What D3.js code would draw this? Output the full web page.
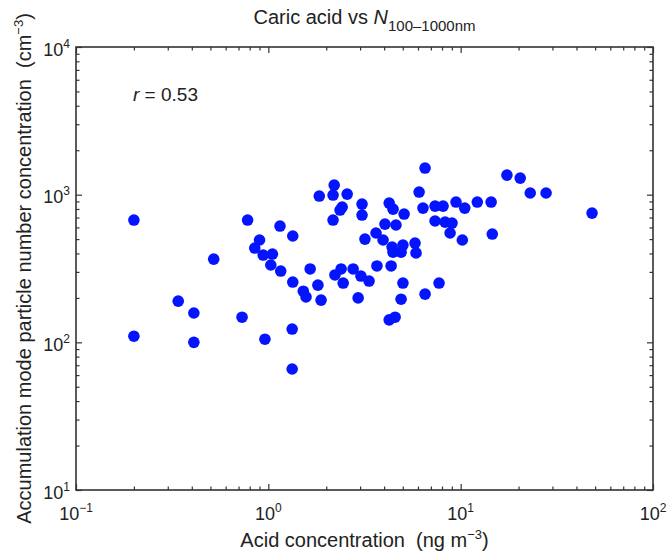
<!DOCTYPE html>
<html>
<head>
<meta charset="utf-8">
<script src="https://cdn.jsdelivr.net/npm/d3@7"></script>
<style>
  body { margin: 0; background: #fff; }
  svg text { font-family: 'Liberation Sans', Arial, sans-serif; fill: #222; white-space: pre; }
</style>
</head>
<body>
<div id="chart"></div>
<script>
// Acid concentration (ng m-3)
const acidConc = [
  0.2, 0.2, 0.52, 0.34, 0.41, 0.41, 0.73, 0.78, 0.96, 1.33,
  1.33, 1.15, 1.34, 0.90, 0.85, 0.94, 1.05, 1.03, 1.16, 1.34,
  1.52, 1.57, 1.65, 1.81, 1.88, 1.84, 2.20, 2.17, 2.57, 2.42,
  2.36, 2.17, 2.22, 2.39, 2.45, 2.76, 2.93, 3.07, 3.07, 3.18,
  3.03, 3.34, 3.67, 4.35, 4.25, 4.45, 4.04, 4.61, 3.63, 3.95,
  4.40, 4.45, 5.01, 5.79, 5.86, 4.90, 5.01, 4.90, 4.25, 4.56,
  6.53, 7.72, 5.08, 6.08, 6.53, 6.37, 7.36, 8.10, 7.36, 8.30,
  9.02, 8.81, 10.2, 9.46, 10.5, 12.2, 14.4, 14.6, 17.4, 20.4,
  23.0, 27.8, 48.2
];

// Accumulation mode number concentration (cm-3), same order
const numberConc = [
  673, 110, 366, 190, 158, 100, 148, 673, 105, 66,
  123, 613, 525, 493, 435, 390, 396, 334, 304, 256,
  222, 203, 314, 244, 193, 979, 1161, 994, 1009, 824,
  787, 673, 286, 314, 252, 314, 200, 863, 728, 500,
  281, 260, 329, 329, 877, 798, 632, 623, 550, 493,
  442, 408, 456, 470, 403, 408, 252, 196, 142, 148,
  212, 252, 739, 1042, 1514, 811, 837, 837, 663, 652,
  642, 550, 493, 891, 811, 891, 891, 541, 1357, 1295,
  1026, 1026, 750
];

const xDecades = [-1, 0, 1, 2];
const yDecades = [1, 2, 3, 4];
const corrText = '0.53';

const width = 667;
const height = 557;
const margin = { top: 47, right: 14, bottom: 67, left: 76 };
const plotW = width - margin.left - margin.right;
const plotH = height - margin.top - margin.bottom;

const svg = d3.select('#chart').append('svg')
  .attr('width', width)
  .attr('height', height);

const g = svg.append('g')
  .attr('transform', `translate(${margin.left},${margin.top})`);

const x = d3.scaleLog()
  .domain([Math.pow(10, xDecades[0]), Math.pow(10, xDecades[xDecades.length - 1])])
  .range([0, plotW]);

const y = d3.scaleLog()
  .domain([Math.pow(10, yDecades[0]), Math.pow(10, yDecades[yDecades.length - 1])])
  .range([plotH, 0]);

// minor ticks 2..9 within each decade
function minorTicks(decades) {
  const out = [];
  for (let i = 0; i < decades.length - 1; i++) {
    for (let m = 2; m <= 9; m++) {
      out.push(m * Math.pow(10, decades[i]));
    }
  }
  return out;
}

const xMajor = xDecades.map(d => Math.pow(10, d));
const yMajor = yDecades.map(d => Math.pow(10, d));

// Inward ticks on all four sides
function drawTicks(axisFn, scale, values, size, transform) {
  g.append('g')
    .attr('class', 'ticks')
    .attr('transform', transform)
    .call(axisFn(scale).tickValues(values).tickSize(size).tickFormat(''));
}

drawTicks(d3.axisBottom, x, xMajor, -6, `translate(0,${plotH})`);
drawTicks(d3.axisBottom, x, minorTicks(xDecades), -3.5, `translate(0,${plotH})`);
drawTicks(d3.axisTop, x, xMajor, -6, 'translate(0,0)');
drawTicks(d3.axisTop, x, minorTicks(xDecades), -3.5, 'translate(0,0)');
drawTicks(d3.axisLeft, y, yMajor, -6, 'translate(0,0)');
drawTicks(d3.axisLeft, y, minorTicks(yDecades), -3.5, 'translate(0,0)');
drawTicks(d3.axisRight, y, yMajor, -6, `translate(${plotW},0)`);
drawTicks(d3.axisRight, y, minorTicks(yDecades), -3.5, `translate(${plotW},0)`);

g.selectAll('.ticks .domain').remove();
g.selectAll('.ticks line')
  .attr('stroke', '#333')
  .attr('stroke-width', 1.2);

// Frame
g.append('rect')
  .attr('width', plotW)
  .attr('height', plotH)
  .attr('fill', 'none')
  .attr('stroke', '#333')
  .attr('stroke-width', 1.6);

// Power-of-ten tick labels
const xLab = g.selectAll('text.xlab')
  .data(xDecades)
  .enter().append('text')
  .attr('class', 'xlab')
  .attr('x', d => x(Math.pow(10, d)))
  .attr('y', plotH + 30)
  .attr('text-anchor', 'middle')
  .style('font-size', '18px');
xLab.append('tspan').text('10');
xLab.append('tspan')
  .attr('dy', -8)
  .style('font-size', '12px')
  .text(d => d < 0 ? '\u2212' + Math.abs(d) : d);

const yLab = g.selectAll('text.ylab')
  .data(yDecades)
  .enter().append('text')
  .attr('class', 'ylab')
  .attr('x', -6)
  .attr('y', d => y(Math.pow(10, d)) + 8.5)
  .attr('text-anchor', 'end')
  .style('font-size', '18px');
yLab.append('tspan').text('10');
yLab.append('tspan')
  .attr('dy', -8)
  .style('font-size', '12px')
  .text(d => d);

// Points
g.selectAll('circle.pt')
  .data(acidConc.map((a, i) => [a, numberConc[i]]))
  .enter().append('circle')
  .attr('class', 'pt')
  .attr('cx', d => x(d[0]))
  .attr('cy', d => y(d[1]))
  .attr('r', 5.8)
  .attr('fill', '#0514ff');

// Correlation annotation
const rText = g.append('text')
  .attr('x', 57)
  .attr('y', 54)
  .style('font-size', '19px');
rText.append('tspan').style('font-style', 'italic').text('r');
rText.append('tspan').text(' = ' + corrText);

// Title
const title = svg.append('text')
  .attr('x', margin.left + plotW / 2)
  .attr('y', 24)
  .attr('text-anchor', 'middle')
  .style('font-size', '20px');
title.append('tspan').text('Caric acid vs ');
title.append('tspan').style('font-style', 'italic').text('N');
title.append('tspan')
  .attr('dy', 7)
  .style('font-size', '15px')
  .text('100\u20131000nm');

// Axis titles
const xTitle = svg.append('text')
  .attr('x', margin.left + plotW / 2)
  .attr('y', 547)
  .attr('text-anchor', 'middle')
  .style('font-size', '20px');
xTitle.append('tspan').text('Acid concentration  (ng m');
xTitle.append('tspan').attr('dy', -8).style('font-size', '13px').text('\u22123');
xTitle.append('tspan').attr('dy', 8).text(')');

const yTitle = svg.append('text')
  .attr('transform', `translate(31,${margin.top + plotH / 2}) rotate(-90)`)
  .attr('text-anchor', 'middle')
  .style('font-size', '20px');
yTitle.append('tspan').text('Accumulation mode particle number concentration  (cm');
yTitle.append('tspan').attr('dy', -8).style('font-size', '13px').text('\u22123');
yTitle.append('tspan').attr('dy', 8).text(')');
</script>
</body>
</html>
